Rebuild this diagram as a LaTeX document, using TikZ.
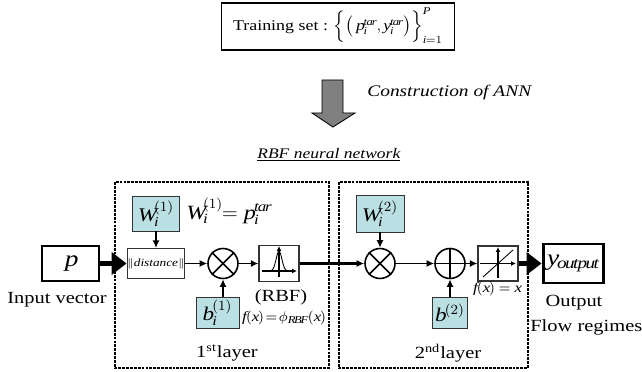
\documentclass[tikz,border=0pt]{standalone}
\usepackage{fontspec}
\setmainfont[FakeStretch=1.2]{Liberation Serif}
\usetikzlibrary{arrows.meta}
\definecolor{boxcyan}{RGB}{187,224,227}
\definecolor{arrgray}{RGB}{128,128,128}
\def\mv#1{\mathit{#1}}
\tikzset{
	txt/.style={font=\fontsize{9.7}{11}\selectfont, inner sep=0pt},
	smalltxt/.style={font=\fontsize{8}{9}\selectfont, inner sep=0pt},
	wbox/.style={draw=black!80, line width=0.5pt, fill=boxcyan, inner sep=0pt, font=\fontsize{11}{12}\selectfont},
	fbox/.style={draw=black!80, line width=0.6pt, fill=white, inner sep=0pt},
	iobox/.style={draw, line width=1.7pt, fill=white, inner sep=0pt, font=\fontsize{13}{14}\selectfont},
	opnode/.style={draw, circle, line width=0.9pt, minimum size=6mm, inner sep=0pt},
	layerbox/.style={line width=0.8pt, dash pattern=on 1.6pt off 0.6pt},
	con/.style={line width=1pt, -{Latex[length=1.5mm,width=1.4mm]}},
	bigcon/.style={line width=2.8pt, -{Triangle[length=3mm,width=4.4mm]}},
}
\begin{document}
\begin{tikzpicture}[x=0.2mm, y=-0.2mm]
		%%%%% START %%%%%
		\useasboundingbox (0, 0) rectangle (642, 372);
		
		\node[draw, line width=0.7pt, minimum width=46.6mm, minimum height=9.4mm, inner sep=0pt, font=\fontsize{8.5}{9}\selectfont] (train) at (338, 26.5)
			{Training set : $\Big\{\big(\,\mv{p}_{\mv{i}}^{\mv{tar}},\mv{y}_{\mv{i}}^{\mv{tar}}\big)\Big\}_{\smash{\mv{i}=1}}^{\smash{\mv{P}}}$};
		
		\draw[fill=arrgray, line width=0.5pt] (322, 80) -- (343, 80) -- (343, 113) -- (355, 113) -- (333, 127) -- (312, 113) -- (322, 113) -- cycle;
		\node[txt, anchor=west, font=\fontsize{9.2}{11}\itshape] (constr) at (367, 93) {Construction of ANN};
		\node[txt, anchor=west, font=\fontsize{8.3}{10}\itshape] (title) at (257, 155) {\underline{RBF neural network}};
		
		\draw[layerbox] (115, 182) rectangle (329, 368);
		\draw[layerbox] (339, 182) rectangle (528, 368);
		
		% first layer
		\node[iobox, minimum width=11.4mm, minimum height=7mm] (pin) at (70.5, 263.5) {$\mv{p}$};
		\node[txt] (inlab) at (57, 300) {Input vector};
		
		\node[wbox, minimum width=9.4mm, minimum height=7mm] (wone) at (156, 213.5) {$\mv{W}_{\mv{i}}^{(1)}$};
		\node[fbox, minimum width=11.4mm, minimum height=6mm, font=\fontsize{6.3}{7}\itshape] (dist) at (156, 263.5) {$\|$distance$\|$};
		\node[font=\fontsize{11.5}{13}\selectfont, inner sep=0pt, anchor=west] (eqone) at (186, 211) {$\mv{W}_{\mv{i}}^{(1)}\!\!=\mv{p}_{\mv{i}}^{\mv{tar}}$};
		
		\node[opnode] (mulone) at (223, 263.5) {};
		\draw[line width=0.9pt] (mulone.north west) -- (mulone.south east);
		\draw[line width=0.9pt] (mulone.north east) -- (mulone.south west);
		\node[wbox, minimum width=8.6mm, minimum height=6.2mm] (bone) at (217.5, 312.5) {$\mv{b}_{\mv{i}}^{(1)}$};
		
		\node[fbox, minimum width=8mm, minimum height=7.2mm] (rbf) at (279, 263.5) {};
		\draw[line width=0.6pt, -{Latex[length=1mm,width=1mm]}] (262, 271) -- (297, 271);
		\draw[line width=0.6pt, -{Latex[length=1mm,width=1mm]}] (279, 277) -- (279, 246);
		\draw[line width=0.5pt, domain=-15:15, samples=40] plot ({279+\x}, {271-20*exp(-(\x*\x)/16)});
		\node[txt] (rbflab) at (281, 297) {(RBF)};
		\node[smalltxt] (rbffun) at (284, 318) {$\mv{f}(\mv{x})\!=\!\phi_{\mv{RBF}}(\mv{x})$};
		
		\node[txt] (layone) at (227, 353) {1\textsuperscript{st}layer};
		
		% second layer
		\node[wbox, minimum width=9.6mm, minimum height=7.4mm] (wtwo) at (380, 213.5) {$\mv{W}_{\mv{i}}^{(2)}$};
		\node[opnode] (multwo) at (380, 263.5) {};
		\draw[line width=0.9pt] (multwo.north west) -- (multwo.south east);
		\draw[line width=0.9pt] (multwo.north east) -- (multwo.south west);
		
		\node[opnode] (addtwo) at (450, 263.5) {};
		\draw[line width=0.9pt] (addtwo.north) -- (addtwo.south);
		\draw[line width=0.9pt] (addtwo.west) -- (addtwo.east);
		\node[wbox, minimum width=7mm, minimum height=6.2mm] (btwo) at (450, 312.5) {$\mv{b}^{(2)}$};
		
		\node[fbox, minimum width=8mm, minimum height=7mm] (lin) at (498, 263.5) {};
		\draw[line width=0.6pt, -{Latex[length=1mm,width=1mm]}] (480, 263.5) -- (516, 263.5);
		\draw[line width=0.6pt, -{Latex[length=1mm,width=1mm]}] (498, 278) -- (498, 247);
		\draw[line width=0.5pt] (483, 277) -- (513, 250);
		\node[smalltxt] (linfun) at (497, 289) {$\mv{f}(\mv{x})=\mv{x}$};
		
		\node[txt] (laytwo) at (448, 353) {2\textsuperscript{nd}layer};
		
		% output
		\node[iobox, minimum width=12mm, minimum height=7.8mm] (yout) at (573, 263.5) {$\mv{y}_{\mv{output}}$};
		\node[txt] (outlab) at (574, 303) {Output};
		\node[txt, anchor=west] (flowlab) at (530, 327) {Flow regimes};
		
		% connections
		\draw[bigcon] (pin) -- (dist);
		\draw[con] (wone) -- (dist);
		\draw[con] (dist) -- (mulone);
		\draw[con] (mulone |- bone.north) -- (mulone);
		\draw[con] (mulone) -- (rbf);
		\draw[con, line width=1.4pt] (rbf) -- (multwo);
		\draw[con] (wtwo) -- (multwo);
		\draw[con] (multwo) -- (addtwo);
		\draw[con] (btwo) -- (addtwo);
		\draw[con] (addtwo) -- (lin);
		\draw[bigcon] (lin) -- (yout);
		
		%%%%% END %%%%%
	\end{tikzpicture}
\end{document}
